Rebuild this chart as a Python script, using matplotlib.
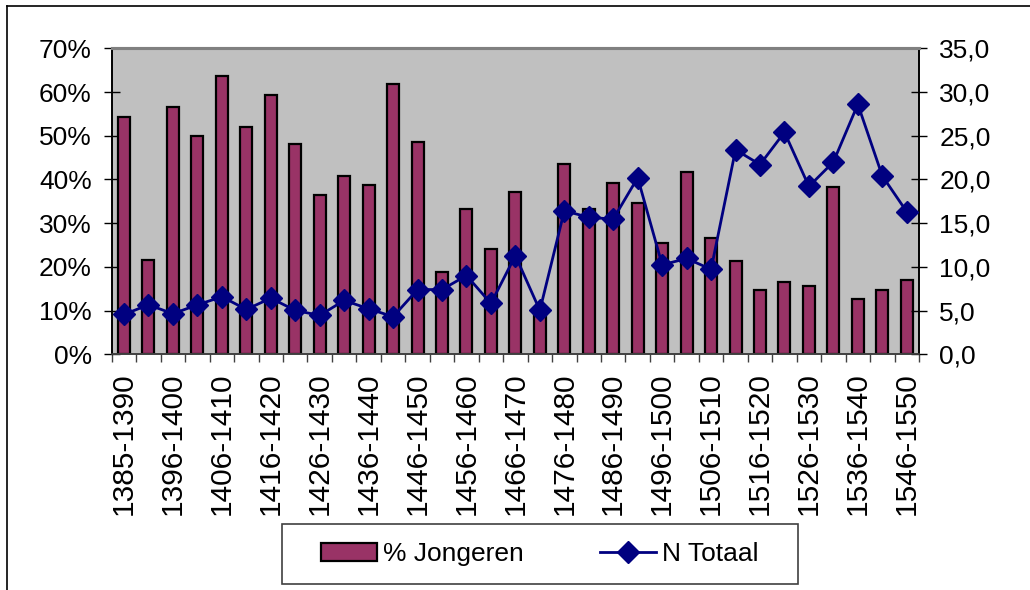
import matplotlib
matplotlib.use("Agg")
import matplotlib.pyplot as plt
from matplotlib.lines import Line2D
from matplotlib.patches import Rectangle
from matplotlib.ticker import FuncFormatter, FixedLocator

plt.rcParams['font.family'] = ['Liberation Sans', 'DejaVu Sans']

categories = [
    '1385-1390', '1391-1395', '1396-1400', '1401-1405', '1406-1410', '1411-1415',
    '1416-1420', '1421-1425', '1426-1430', '1431-1435', '1436-1440', '1441-1445',
    '1446-1450', '1451-1455', '1456-1460', '1461-1465', '1466-1470', '1471-1475',
    '1476-1480', '1481-1485', '1486-1490', '1491-1495', '1496-1500', '1501-1505',
    '1506-1510', '1511-1515', '1516-1520', '1521-1525', '1526-1530', '1531-1535',
    '1536-1540', '1541-1545', '1546-1550',
]
pct_jongeren = [54.2, 21.5, 56.5, 50.0, 63.6, 52.0, 59.4, 48.0, 36.4, 40.7, 38.8,
                61.9, 48.6, 18.9, 33.3, 24.2, 37.2, 10.5, 43.5, 33.3, 39.2, 34.7,
                25.5, 41.8, 26.5, 21.4, 14.8, 16.5, 15.7, 38.2, 12.6, 14.8, 17.1]
n_totaal = [4.56, 5.66, 4.64, 5.66, 6.58, 5.13, 6.42, 5.02, 4.45, 6.16, 5.21,
            4.30, 7.40, 7.41, 9.01, 5.82, 11.29, 5.02, 16.42, 15.66, 15.47, 20.2,
            10.23, 10.96, 9.72, 23.4, 21.7, 25.4, 19.2, 22.0, 28.6, 20.4, 16.3]
left_ticks = [0, 10, 20, 30, 40, 50, 60, 70]
right_ticks = [0, 5, 10, 15, 20, 25, 30, 35]

W, H = 1030, 590
fig = plt.figure(figsize=(W / 100, H / 100), dpi=100)
fig.patch.set_facecolor('white')

x0, x1, ytop, ybot = 111.8, 919, 48.3, 354.3
ax = fig.add_axes([x0 / W, 1 - ybot / H, (x1 - x0) / W, (ybot - ytop) / H])
ax.set_facecolor('#C0C0C0')

n = len(categories)
xs = list(range(n))
ax.bar(xs, pct_jongeren, width=0.49, color='#993366', edgecolor='black',
       linewidth=1.6, label='% Jongeren', zorder=2)
ax.set_xlim(-0.5, n - 0.5)
ax.set_ylim(0, 70)

ax2 = ax.twinx()
ax2.plot(xs, n_totaal, color='#000080', linewidth=2.0, marker='D',
         markersize=11, markerfacecolor='#000080', markeredgecolor='#000080',
         label='N Totaal', zorder=3)
ax2.set_ylim(0, 35)

fs = 19
# x axis
ax.xaxis.set_major_locator(FixedLocator(xs))
ax.set_xticklabels([c if i % 2 == 0 else '' for i, c in enumerate(categories)],
                   rotation=90, fontsize=21.5)
ax.tick_params(axis='x', which='major', length=0, pad=13)
ax.xaxis.set_minor_locator(FixedLocator([i - 0.5 for i in range(n + 1)]))
ax.tick_params(axis='x', which='minor', direction='out', length=6, width=1,
               color='#404040')

# left y
ax.set_yticks(left_ticks)
ax.yaxis.set_major_formatter(FuncFormatter(lambda v, p: f'{int(v)}%'))
ax.tick_params(axis='y', direction='inout', length=11, width=1, pad=9,
               labelsize=fs, color='black')
# right y
ax2.set_yticks(right_ticks)
ax2.yaxis.set_major_formatter(FuncFormatter(lambda v, p: f'{v:.1f}'.replace('.', ',')))
ax2.tick_params(axis='y', direction='inout', length=11, width=1, pad=9,
                labelsize=fs, color='black')

for a in (ax, ax2):
    a.spines['top'].set_color('#808080')
    a.spines['top'].set_linewidth(2.2)
    a.spines['left'].set_color('black')
    a.spines['right'].set_color('black')
    a.spines['bottom'].set_color('#404040')
    for s in a.spines.values():
        if s is not a.spines['top']:
            s.set_linewidth(1.2)

# outer chart border (top and left visible)
fig.add_artist(Line2D([7 / W, 7 / W], [0, 1 - 6 / H], transform=fig.transFigure,
                      color='black', linewidth=1.2))
fig.add_artist(Line2D([7 / W, 1], [1 - 6 / H, 1 - 6 / H], transform=fig.transFigure,
                      color='black', linewidth=1.2))

# legend frame
lx0, lx1, ly0, ly1 = 282, 798, 524, 584
fig.add_artist(Rectangle((lx0 / W, 1 - ly1 / H), (lx1 - lx0) / W, (ly1 - ly0) / H,
                         transform=fig.transFigure, facecolor='white',
                         edgecolor='#404040', linewidth=1.2))
h1, l1 = ax.get_legend_handles_labels()
h2, l2 = ax2.get_legend_handles_labels()
leg = fig.legend(h1 + h2, l1 + l2, loc='center',
                 bbox_to_anchor=((lx0 + lx1) / 2 / W, 1 - (ly0 + ly1) / 2 / H),
                 ncol=2, frameon=False, fontsize=fs, handlelength=2.1,
                 handleheight=0.65, handletextpad=0.25, columnspacing=2.9,
                 borderpad=0, borderaxespad=0)

fig.savefig('out.png', dpi=100, facecolor='white')
